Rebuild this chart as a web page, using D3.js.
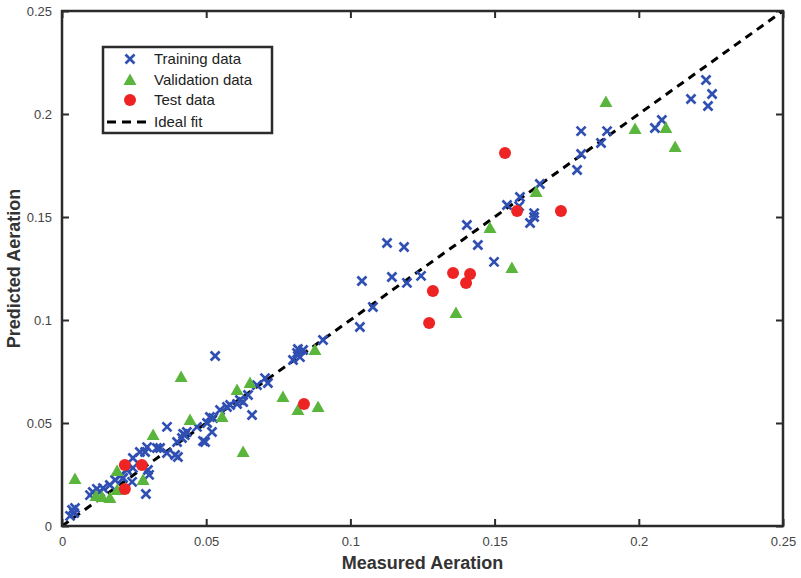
<!DOCTYPE html>
<html>
<head>
<meta charset="utf-8">
<script src="https://cdn.jsdelivr.net/npm/d3@7.9.0/dist/d3.min.js"></script>
<style>
  body { margin: 0; background: #fff; }
  text { font-family: "Liberation Sans", Arial, sans-serif; }
</style>
</head>
<body>
<svg id="chart" width="801" height="578"></svg>
<script>
// measured vs predicted
const training = [
  [0.0035, 0.0078], [0.0042, 0.0063], [0.0045, 0.0087], [0.0028, 0.0049],
  [0.0097, 0.0150], [0.0107, 0.0165], [0.0121, 0.0180], [0.0132, 0.0165],
  [0.0142, 0.0184], [0.0166, 0.0199], [0.0184, 0.0223], [0.0201, 0.0243],
  [0.0212, 0.0233], [0.0225, 0.0272], [0.0243, 0.0214], [0.0246, 0.0282],
  [0.0246, 0.0330], [0.0270, 0.0359], [0.0288, 0.0359], [0.0295, 0.0383],
  [0.0291, 0.0155], [0.0298, 0.0272], [0.0302, 0.0248], [0.0329, 0.0379],
  [0.0340, 0.0379], [0.0364, 0.0481], [0.0364, 0.0354], [0.0392, 0.0345],
  [0.0402, 0.0335], [0.0399, 0.0408], [0.0416, 0.0427], [0.0426, 0.0442],
  [0.0420, 0.0447], [0.0433, 0.0456], [0.0468, 0.0481], [0.0489, 0.0413],
  [0.0496, 0.0408], [0.0503, 0.0500], [0.0513, 0.0529], [0.0520, 0.0456],
  [0.0524, 0.0524], [0.0548, 0.0563], [0.0572, 0.0578], [0.0583, 0.0587],
  [0.0607, 0.0592], [0.0617, 0.0612], [0.0628, 0.0602], [0.0659, 0.0539],
  [0.0645, 0.0636], [0.0676, 0.0684], [0.0704, 0.0718], [0.0714, 0.0694],
  [0.0531, 0.0825], [0.0801, 0.0806], [0.0815, 0.0840], [0.0825, 0.0820],
  [0.0836, 0.0854], [0.0818, 0.0859], [0.0905, 0.0903], [0.1033, 0.0966],
  [0.1078, 0.1063], [0.1040, 0.1189], [0.1144, 0.1209], [0.1127, 0.1374],
  [0.1186, 0.1354], [0.1196, 0.1180], [0.1245, 0.1214], [0.1404, 0.1461],
  [0.1442, 0.1364], [0.1498, 0.1282], [0.1543, 0.1558], [0.1588, 0.1597],
  [0.1585, 0.1553], [0.1637, 0.1519], [0.1637, 0.1500], [0.1623, 0.1471],
  [0.1657, 0.1660], [0.1786, 0.1728], [0.1800, 0.1806], [0.1869, 0.1859],
  [0.1800, 0.1917], [0.1890, 0.1917], [0.2056, 0.1932], [0.2080, 0.1971],
  [0.2181, 0.2073], [0.2240, 0.2039], [0.2254, 0.2097], [0.2233, 0.2165]
];

const validation = [
  [0.0045, 0.0228], [0.0118, 0.0146], [0.0139, 0.0141], [0.0166, 0.0136],
  [0.0191, 0.0267], [0.0191, 0.0175], [0.0281, 0.0223], [0.0316, 0.0442],
  [0.0413, 0.0723], [0.0444, 0.0515], [0.0555, 0.0529], [0.0607, 0.0660],
  [0.0652, 0.0694], [0.0628, 0.0359], [0.0766, 0.0626], [0.0818, 0.0563],
  [0.0888, 0.0578], [0.0877, 0.0854], [0.1366, 0.1034], [0.1484, 0.1447],
  [0.1560, 0.1252], [0.1644, 0.1621], [0.1886, 0.2058], [0.1987, 0.1927],
  [0.2094, 0.1932], [0.2126, 0.1840]
];

const test = [
  [0.0218, 0.0296], [0.0277, 0.0296], [0.0218, 0.0180], [0.0839, 0.0592],
  [0.1273, 0.0985], [0.1286, 0.1141], [0.1356, 0.1228], [0.1401, 0.1180],
  [0.1415, 0.1223], [0.1536, 0.1811], [0.1578, 0.1529], [0.1730, 0.1529]
];

const tickValues = [0, 0.05, 0.1, 0.15, 0.2, 0.25];
const tickLabels = ['0', '0.05', '0.1', '0.15', '0.2', '0.25'];
const legendLabels = ['Training data', 'Validation data', 'Test data', 'Ideal fit'];

const blue = '#2f4fb2', green = '#5ab53c', red = '#ee2424', axisCol = '#2b2b2b';

const svg = d3.select('#chart');
const margin = { top: 11, right: 18, bottom: 52, left: 62 };
const width = 801 - margin.left - margin.right;
const height = 578 - margin.top - margin.bottom;

const x = d3.scaleLinear().domain([0, 0.25]).range([0, width]);
const y = d3.scaleLinear().domain([0, 0.25]).range([height, 0]);

const g = svg.append('g').attr('transform', `translate(${margin.left},${margin.top})`);

// axes, ticks inside like matlab
const fmt = (d) => tickLabels[tickValues.indexOf(d)];
function styleAxis(sel) {
  sel.select('.domain').remove();
  sel.selectAll('.tick line').attr('stroke', axisCol).attr('stroke-width', 2);
  sel.selectAll('.tick text').attr('fill', '#444').style('font-size', '13px');
}
g.append('g').attr('transform', `translate(0,${height})`)
  .call(d3.axisBottom(x).tickValues(tickValues).tickFormat(fmt).tickSizeInner(-7).tickSizeOuter(0).tickPadding(11))
  .call(styleAxis);
g.append('g')
  .call(d3.axisLeft(y).tickValues(tickValues).tickFormat(fmt).tickSizeInner(-7).tickSizeOuter(0).tickPadding(10))
  .call(styleAxis);
g.append('g')
  .call(d3.axisTop(x).tickValues(tickValues).tickFormat('').tickSizeInner(-7).tickSizeOuter(0))
  .call(styleAxis);
g.append('g').attr('transform', `translate(${width},0)`)
  .call(d3.axisRight(y).tickValues(tickValues).tickFormat('').tickSizeInner(-7).tickSizeOuter(0))
  .call(styleAxis);

// ideal fit line
g.append('line')
  .attr('x1', x(0)).attr('y1', y(0)).attr('x2', x(0.25)).attr('y2', y(0.25))
  .attr('stroke', '#000').attr('stroke-width', 3).attr('stroke-dasharray', '8,6');

const cross = (sel) => sel.attr('d', 'M-4.5,-4.5L4.5,4.5M-4.5,4.5L4.5,-4.5')
  .attr('stroke', blue).attr('stroke-width', 2.7).attr('fill', 'none');
const tri = (sel) => sel.attr('d', 'M0,-6.5L6.5,5L-6.5,5Z').attr('fill', green);

g.append('g').selectAll('path').data(training).join('path')
  .attr('transform', d => `translate(${x(d[0])},${y(d[1])})`).call(cross);
g.append('g').selectAll('path').data(validation).join('path')
  .attr('transform', d => `translate(${x(d[0])},${y(d[1])})`).call(tri);
g.append('g').selectAll('circle').data(test).join('circle')
  .attr('cx', d => x(d[0])).attr('cy', d => y(d[1])).attr('r', 6).attr('fill', red);

// frame
g.append('rect').attr('width', width).attr('height', height)
  .attr('fill', 'none').attr('stroke', axisCol).attr('stroke-width', 2.5);

// axis titles
svg.append('text').attr('x', margin.left + width / 2).attr('y', 569)
  .attr('text-anchor', 'middle').attr('font-weight', 'bold').attr('font-size', 18)
  .attr('fill', '#333').text('Measured Aeration');
svg.append('text').attr('transform', `translate(20,${margin.top + height / 2}) rotate(-90)`)
  .attr('text-anchor', 'middle').attr('font-weight', 'bold').attr('font-size', 18)
  .attr('fill', '#333').text('Predicted Aeration');

// legend
const lg = svg.append('g').attr('transform', 'translate(103,47)');
lg.append('rect').attr('width', 169).attr('height', 86)
  .attr('fill', '#fff').attr('stroke', axisCol).attr('stroke-width', 2.5);
const rowY = [12, 33, 53, 75];
legendLabels.forEach((lab, i) => {
  const row = lg.append('g').attr('transform', `translate(0,${rowY[i]})`);
  if (i === 0) row.append('path').attr('transform', 'translate(27,0)').call(cross);
  if (i === 1) row.append('path').attr('transform', 'translate(27,0)').call(tri);
  if (i === 2) row.append('circle').attr('cx', 27).attr('r', 6).attr('fill', red);
  if (i === 3) row.append('line').attr('x1', 4).attr('x2', 49)
    .attr('stroke', '#000').attr('stroke-width', 3).attr('stroke-dasharray', '9,6');
  row.append('text').attr('x', 51).attr('dy', '0.36em').attr('font-size', 15)
    .attr('fill', '#222').text(lab);
});
</script>
</body>
</html>
